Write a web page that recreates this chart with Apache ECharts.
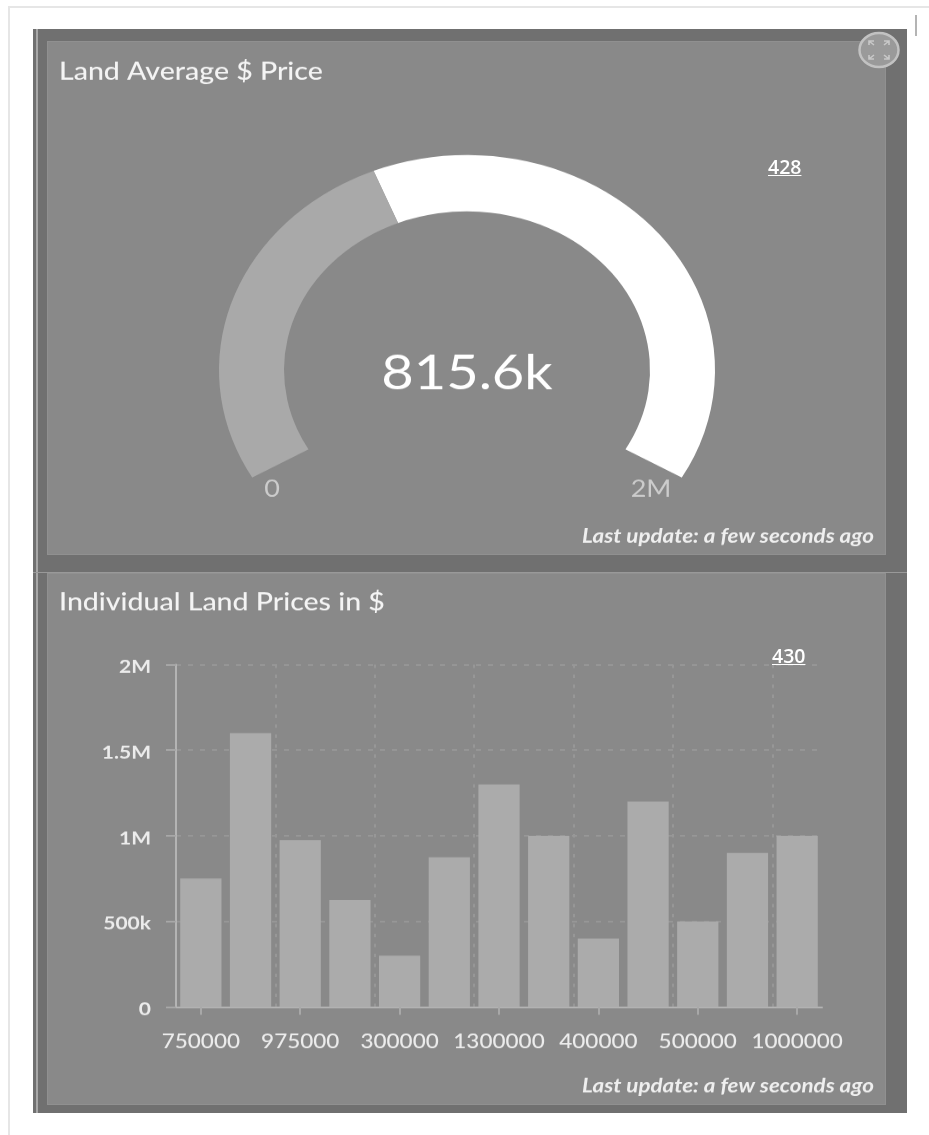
<!DOCTYPE html>
<html>
<head>
<meta charset="utf-8">
<style>
  html, body { margin: 0; padding: 0; background: #fff; width: 929px; height: 1135px; overflow: hidden; }
  .box { position: absolute; box-sizing: border-box; }
  #outer { left: 8px; top: 6px; width: 930px; height: 1140px; border: 2px solid #e6e6e6; }
  #mark { left: 915px; top: 15px; width: 2px; height: 21px; background: #b4b4b4; }
  #frame { left: 33px; top: 29px; width: 874px; height: 1084px; background: #707070; }
  #strip { left: 36px; top: 29px; width: 2px; height: 1084px; background: #a8a8a8; }
  .panel { left: 47px; width: 839px; background: #898989; border: 1px solid #909090; }
  #p1 { top: 41px; height: 514px; }
  #p2 { top: 573px; height: 532px; }
  #seam { left: 33px; top: 572px; width: 874px; height: 1px; background: #999; }
  #chart { position: absolute; left: 0; top: 0; width: 929px; height: 1309px; transform: scaleY(0.867); transform-origin: 0 0; }
  .note { position: absolute; color: #fff; font: 600 19.5px "Open Sans", sans-serif; text-decoration: underline; line-height: 20px; }
  #icon { position: absolute; left: 858px; top: 31px; }
</style>
</head>
<body>
<div class="box" id="outer"></div>
<div class="box" id="mark"></div>
<div class="box" id="frame"></div>
<div class="box" id="strip"></div>
<div class="box panel" id="p1"></div>
<div class="box" id="seam"></div>
<div class="box panel" id="p2"></div>
<div id="chart"></div>
<svg id="icon" width="42" height="38" viewBox="0 0 42 38">
  <ellipse cx="21" cy="19" rx="19.5" ry="17" fill="#9a9a9a" stroke="#c2c2c2" stroke-width="2.5"/>
  <g fill="none" stroke="#c8c8c8" stroke-width="1.6">
    <path d="M11 14 V10 H16 M11 10 L16 14"/>
    <path d="M31 14 V10 H26 M31 10 L26 14"/>
    <path d="M11 24 V28 H16 M11 28 L16 24"/>
    <path d="M31 24 V28 H26 M31 28 L26 24"/>
  </g>
</svg>
<div class="note" style="left:768px;top:157px">428</div>
<div class="note" style="left:772px;top:646px">430</div>
<script src="https://cdn.jsdelivr.net/npm/echarts@6/dist/echarts.min.js"></script>
<script>
// Dashboard values
const averagePrice = 815600;
const gaugeMax = 2000000;
const gaugeEndLabels = ['0', '2M'];
const landCategories = ['750000','1600000','975000','625000','300000','875000','1300000','1000000','400000','1200000','500000','900000','1000000'];
const landPrices = [750000,1600000,975000,625000,300000,875000,1300000,1000000,400000,1200000,500000,900000,1000000];
const yTicks = { 0: '0', 500000: '500k', 1000000: '1M', 1500000: '1.5M', 2000000: '2M' };
const panelTitles = ['Land Average $ Price', 'Individual Land Prices in $'];
const updateNote = 'Last update: a few seconds ago';

// The canvas is flattened vertically by this factor, so page y is divided by it.
const S = 0.867;
const py = v => v / S;

const FONT = 'Lato, sans-serif';
const titleStyle = { color: '#f4f4f4', fontFamily: FONT, fontSize: 28.5, fontWeight: 500 };
const noteStyle = { text: updateNote, fill: '#efefef', font: 'italic 700 22.4px ' + FONT, textAlign: 'right', textVerticalAlign: 'middle' };
const endLabelStyle = text => ({ text, fill: '#cccccc', font: '400 27px ' + FONT, textAlign: 'center', textVerticalAlign: 'middle' });

const chart = echarts.init(document.getElementById('chart'), null, { renderer: 'canvas' });
chart.setOption({
  animation: false,
  backgroundColor: 'transparent',
  title: [
    { text: panelTitles[0], left: 59, top: py(74) - 17, textStyle: titleStyle, padding: 0 },
    { text: panelTitles[1], left: 59, top: py(605) - 17, textStyle: titleStyle, padding: 0 }
  ],
  grid: { left: 176, right: 107, top: py(664.5), height: 342.5 / S, containLabel: false },
  xAxis: {
    type: 'category',
    data: landCategories,
    axisLine: { lineStyle: { color: '#b4b4b4', width: 2 } },
    axisTick: { show: true, alignWithLabel: true, interval: 1, length: 9, lineStyle: { color: '#a8a8a8', width: 2 } },
    axisLabel: { interval: 1, color: '#ececec', fontFamily: FONT, fontSize: 22.5, fontWeight: 500, margin: 29, hideOverlap: false },
    splitLine: { show: true, interval: 1, showMaxLine: false, lineStyle: { color: '#979797', type: [4, 7.5], width: 2 } }
  },
  yAxis: {
    type: 'value',
    min: 0,
    max: gaugeMax,
    interval: 500000,
    axisLine: { show: true, lineStyle: { color: '#b4b4b4', width: 2 } },
    axisTick: { show: true, length: 10, lineStyle: { color: '#a8a8a8', width: 2 } },
    axisLabel: { color: '#ececec', fontFamily: FONT, fontSize: 21, fontWeight: 700, margin: 25, verticalAlign: 'top', lineHeight: 6, formatter: v => yTicks[v] },
    splitLine: { show: true, lineStyle: { color: '#979797', type: [5, 7], width: 2 } }
  },
  series: [
    {
      type: 'gauge',
      center: [467, py(370)],
      radius: 248,
      startAngle: 210,
      endAngle: -30,
      min: 0,
      max: gaugeMax,
      splitNumber: 1,
      pointer: { show: false },
      axisTick: { show: false },
      splitLine: { show: false },
      axisLabel: { show: false },
      axisLine: { roundCap: false, lineStyle: { width: 65, color: [[averagePrice / gaugeMax, '#a9a9a9'], [1, '#ffffff']] } },
      detail: {
        offsetCenter: [0, py(4)],
        color: '#ffffff',
        fontFamily: FONT,
        fontSize: 56,
        fontWeight: 400,
        formatter: v => (v / 1000).toFixed(1) + 'k'
      },
      data: [{ value: averagePrice }]
    },
    {
      type: 'bar',
      data: landPrices,
      barCategoryGap: '17%',
      itemStyle: { color: '#ababab' }
    }
  ],
  graphic: [
    { type: 'text', x: 272, y: py(489), style: endLabelStyle(gaugeEndLabels[0]) },
    { type: 'text', x: 651, y: py(489), style: endLabelStyle(gaugeEndLabels[1]) },
    { type: 'text', right: 55, top: py(538) - 13, style: noteStyle },
    { type: 'text', right: 55, top: py(1088) - 13, style: noteStyle }
  ]
});
</script>
</body>
</html>
